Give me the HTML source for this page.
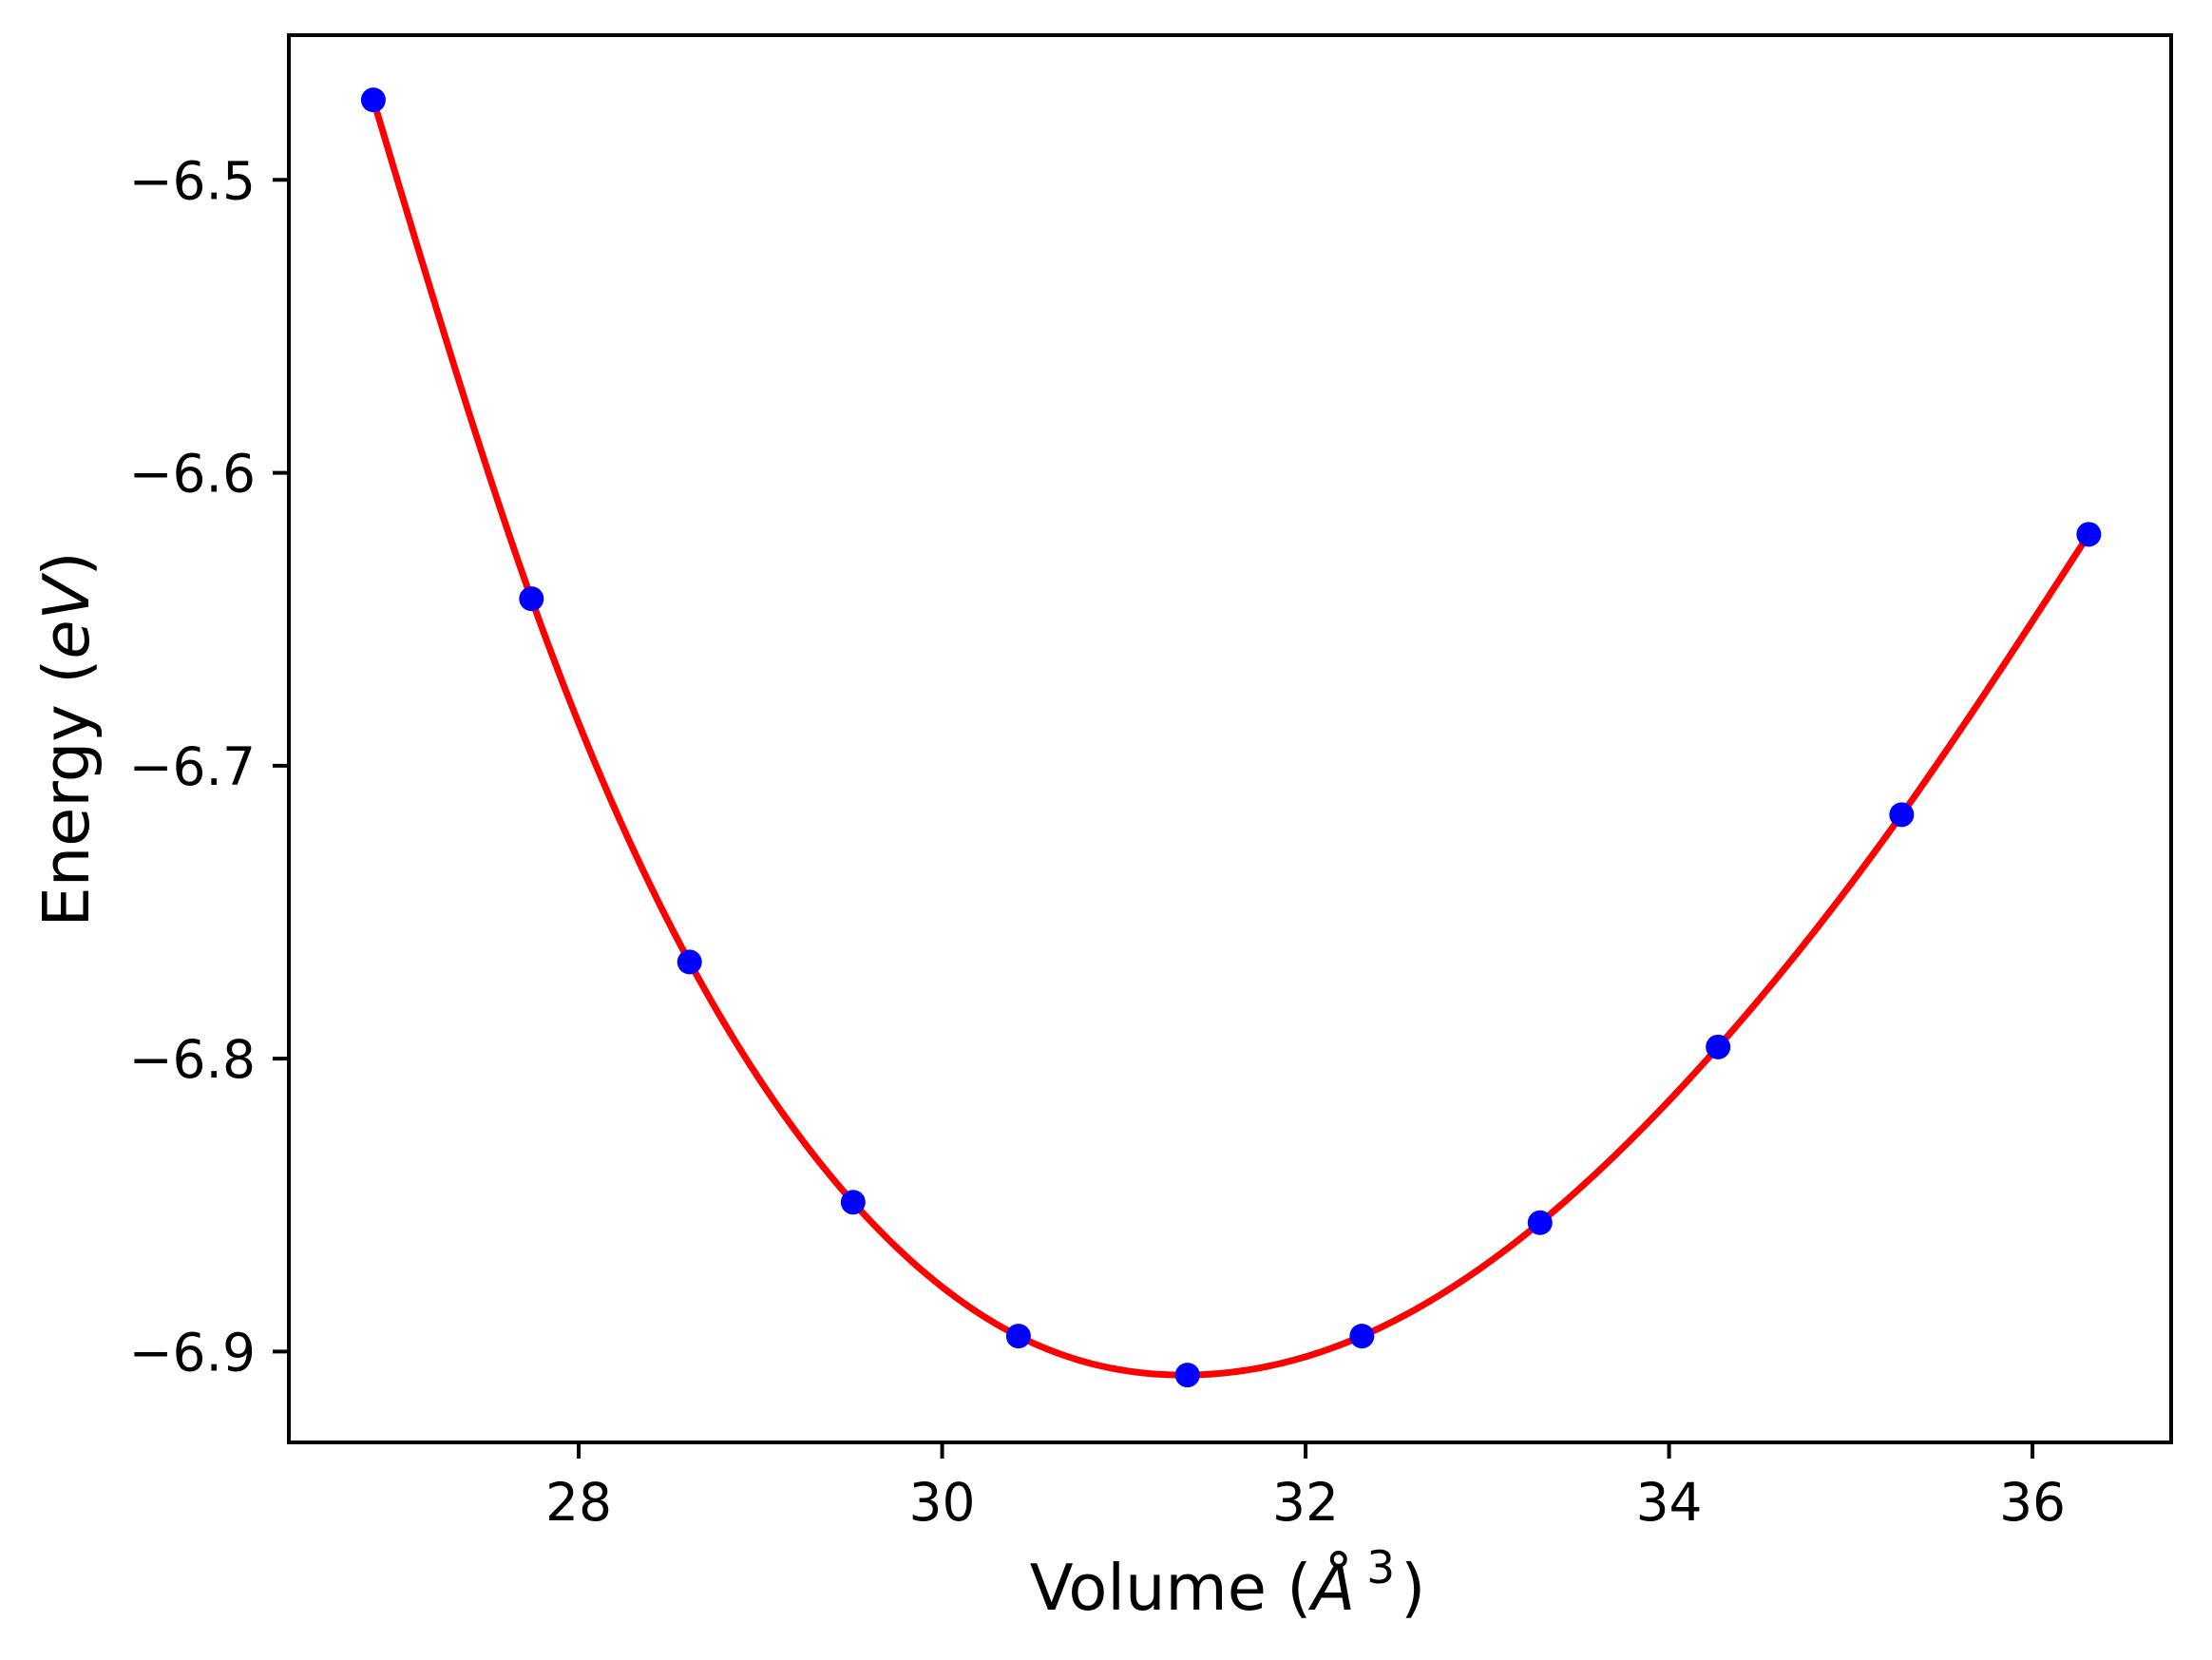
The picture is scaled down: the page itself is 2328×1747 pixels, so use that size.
<!DOCTYPE html>
<html><head><meta charset="utf-8"><style>
html,body{margin:0;padding:0;background:#fff}
svg{display:block;font-family:"DejaVu Sans","Liberation Sans",sans-serif}
</style></head><body>
<svg id="chart" width="2328" height="1747" viewBox="0 0 2328 1747" xmlns="http://www.w3.org/2000/svg">
<g id="plot"></g>
</svg>
<script>
const volumes = [26.87, 27.74, 28.61, 29.51, 30.42, 31.35, 32.31, 33.29, 34.27, 35.28, 36.31];
const energies = [-6.4727, -6.643, -6.767, -6.849, -6.8947, -6.908, -6.8947, -6.856, -6.796, -6.7167, -6.621];
const xTicks = [28, 30, 32, 34, 36];
const yTicks = [-6.5, -6.6, -6.7, -6.8, -6.9];

const L = 304, R = 2285, T = 37, B = 1518;
const xMin = 26.405, xMax = 36.763, yMin = -6.931, yMax = -6.4506;
const xs = v => L + (v - xMin) / (xMax - xMin) * (R - L);
const ys = e => B - (e - yMin) / (yMax - yMin) * (B - T);
const NS = "http://www.w3.org/2000/svg";
const g = document.getElementById('plot');
function mk(tag, attrs, parent) {
  const el = document.createElementNS(NS, tag);
  for (const k in attrs) el.setAttribute(k, attrs[k]);
  (parent || g).appendChild(el);
  return el;
}

function spline(x, y) {
  const n = x.length, h = [], a = [], l = [1], mu = [0], z = [0], c = new Array(n).fill(0), b = [], d = [];
  for (let i = 0; i < n - 1; i++) h[i] = x[i + 1] - x[i];
  for (let i = 1; i < n - 1; i++) a[i] = 3 / h[i] * (y[i + 1] - y[i]) - 3 / h[i - 1] * (y[i] - y[i - 1]);
  for (let i = 1; i < n - 1; i++) {
    l[i] = 2 * (x[i + 1] - x[i - 1]) - h[i - 1] * mu[i - 1];
    mu[i] = h[i] / l[i];
    z[i] = (a[i] - h[i - 1] * z[i - 1]) / l[i];
  }
  for (let j = n - 2; j >= 0; j--) {
    c[j] = z[j] - mu[j] * c[j + 1];
    b[j] = (y[j + 1] - y[j]) / h[j] - h[j] * (c[j + 1] + 2 * c[j]) / 3;
    d[j] = (c[j + 1] - c[j]) / (3 * h[j]);
  }
  return t => {
    let i = 0;
    while (i < n - 2 && t > x[i + 1]) i++;
    const dx = t - x[i];
    return y[i] + b[i] * dx + c[i] * dx * dx + d[i] * dx * dx * dx;
  };
}
const f = spline(volumes, energies);
let pts = [];
const v0 = volumes[0], v1 = volumes[volumes.length - 1];
for (let k = 0; k <= 400; k++) {
  const v = v0 + (v1 - v0) * k / 400;
  pts.push(xs(v).toFixed(2) + ',' + ys(f(v)).toFixed(2));
}
const curve = mk('polyline', {points: pts.join(' '), fill: 'none', stroke: '#ff0000', 'stroke-width': 7, 'stroke-linejoin': 'round'});



volumes.forEach((v, i) => {
  const c = mk('circle', {cx: xs(v), cy: ys(energies[i]), r: 13, fill: '#0000ff'});
  
  
});

const frame = mk('rect', {x: L, y: T, width: R - L, height: B - T, fill: 'none', stroke: '#000', 'stroke-width': 4});



xTicks.forEach(t => {
  const x = xs(t);
  const tk = mk('line', {x1: x, x2: x, y1: B, y2: B + 17, stroke: '#000', 'stroke-width': 4});
  
  
  const tx = mk('text', {x: x, y: 1600, 'font-size': 55, 'text-anchor': 'middle', fill: '#000'});
  tx.textContent = String(t);
  
  
});
yTicks.forEach(t => {
  const y = ys(t);
  const tk = mk('line', {x1: L - 17, x2: L, y1: y, y2: y, stroke: '#000', 'stroke-width': 4});
  
  
  const tx = mk('text', {x: 269, y: y + 20, 'font-size': 55, 'text-anchor': 'end', fill: '#000'});
  tx.textContent = '\u2212' + Math.abs(t).toFixed(1);
  
  
});

const xl = mk('text', {x: 1292, y: 1694, 'font-size': 67, 'text-anchor': 'middle', fill: '#000'});
xl.innerHTML = 'Volume (<tspan font-style="italic">Å</tspan><tspan font-size="47" dx="12" dy="-28">3</tspan><tspan dx="6" dy="28">)</tspan>';



const yl = mk('text', {x: 0, y: 0, 'font-size': 67, 'text-anchor': 'middle', fill: '#000', transform: 'translate(93,778) rotate(-90)'});
yl.innerHTML = 'Energy (<tspan font-style="italic">eV</tspan>)';


</script>
</body></html>
